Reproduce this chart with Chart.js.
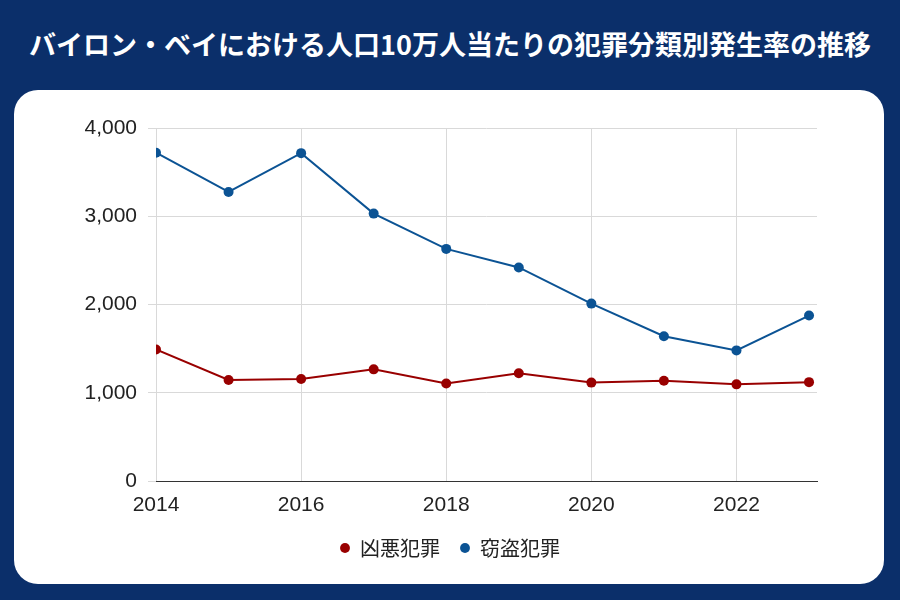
<!DOCTYPE html>
<html lang="ja">
<head>
<meta charset="utf-8">
<script src="https://cdn.jsdelivr.net/npm/chart.js@4.4.1/dist/chart.umd.min.js"></script>
<style>
  html, body { margin: 0; padding: 0; }
  body {
    width: 900px; height: 600px; overflow: hidden; position: relative;
    background: #0b2f6a;
    font-family: "Noto Sans CJK JP", sans-serif;
  }
  h1 {
    position: absolute; left: 0; top: 0; width: 900px; margin: 0;
    line-height: 88px; text-align: center;
    color: #fff; font-size: 27px; font-weight: 700;
  }
  .card {
    position: absolute; left: 14px; top: 90px; width: 870px; height: 494px;
    background: #fff; border-radius: 24px; overflow: hidden;
  }
</style>
</head>
<body>
<h1>バイロン・ベイにおける人口10万人当たりの犯罪分類別発生率の推移</h1>
<div class="card"><canvas id="chart" width="870" height="494"></canvas></div>
<script>
const years = [2014, 2015, 2016, 2017, 2018, 2019, 2020, 2021, 2022, 2023]
const xTickYears = [2014, 2016, 2018, 2020, 2022]
const violentCrime = [1490, 1145, 1155, 1265, 1105, 1220, 1115, 1135, 1095, 1120]
const theft = [3720, 3275, 3715, 3030, 2630, 2420, 2010, 1640, 1480, 1875]
const seriesLabels = ["凶悪犯罪", "窃盗犯罪"]
const yTickValues = [0, 1000, 2000, 3000, 4000]

const RED = "#990000"
const BLUE = "#0b5394"
const GRID = "#d9d9d9"
const tickFont = { family: "'Liberation Sans', Arial, sans-serif", size: 21 }

function toPoints(values) {
  return years.map((year, i) => ({ x: year, y: values[i] }))
}

function lineDataset(label, values, color) {
  return {
    label,
    data: toPoints(values),
    borderColor: color,
    backgroundColor: color,
    borderWidth: 2,
    pointRadius: 5,
    pointBorderWidth: 0,
    pointBackgroundColor: color,
    tension: 0,
  }
}

new Chart(document.getElementById("chart"), {
  type: "line",
  data: {
    datasets: [
      lineDataset(seriesLabels[0], violentCrime, RED),
      lineDataset(seriesLabels[1], theft, BLUE),
    ],
  },
  options: {
    responsive: false,
    animation: false,
    // left/right padding also keeps the bottom legend centred like the original
    layout: { padding: { left: 69, right: 67, top: 38, bottom: 16 } },
    plugins: {
      tooltip: { enabled: false },
      legend: {
        position: "bottom",
        labels: {
          usePointStyle: true,
          pointStyle: "circle",
          boxWidth: 10,
          boxHeight: 7,
          padding: 20,
          color: "#222",
          font: { family: "'Noto Sans CJK JP', sans-serif", size: 20 },
        },
      },
    },
    scales: {
      x: {
        type: "linear",
        min: years[0],
        max: years[years.length - 1] + 0.11,
        afterBuildTicks: (scale) => {
          scale.ticks = xTickYears.map((value) => ({ value }))
        },
        afterFit: (scale) => { scale.height = 37 },
        ticks: {
          autoSkip: false,
          maxRotation: 0,
          padding: 12,
          color: "#222",
          font: tickFont,
          callback: (value) => String(value),
        },
        grid: { color: GRID, drawTicks: false },
        border: { color: "#333", width: 1 },
      },
      y: {
        min: yTickValues[0],
        max: yTickValues[yTickValues.length - 1],
        afterFit: (scale) => { scale.width = 73 },
        ticks: {
          stepSize: 1000,
          padding: 11,
          color: "#222",
          font: tickFont,
          callback: (value) => value.toLocaleString("en-US"),
        },
        grid: { color: GRID, tickLength: 8 },
        border: { display: false },
      },
    },
  },
})
</script>
</body>
</html>
